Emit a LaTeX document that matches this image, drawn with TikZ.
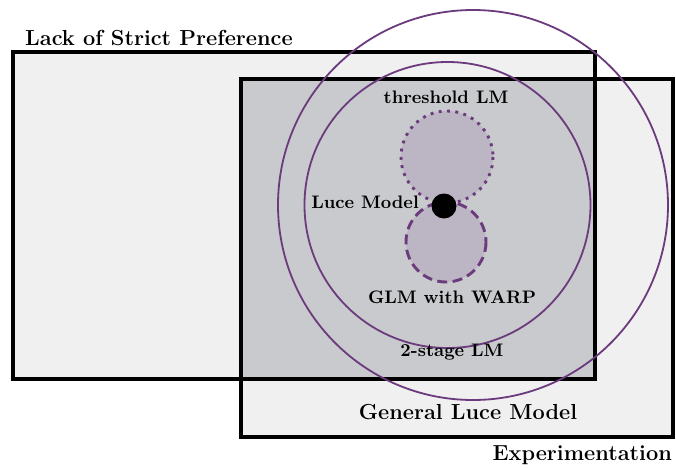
\documentclass[tikz,border=0pt]{standalone}
\usepackage{amsmath}
\usepackage{xcolor}
\usepackage{tikz}
\usetikzlibrary{shapes,backgrounds}
\definecolor{setgray}{HTML}{F0F0F0}
\definecolor{bothgray}{HTML}{C9CACD}
\definecolor{lmpurple}{HTML}{6B3B7E}
\definecolor{lmfill}{HTML}{BCB5C3}
\tikzstyle{setlabel} = [font=\large\bfseries, inner sep=1pt]
\tikzstyle{modellabel} = [font=\normalsize\bfseries, inner sep=1pt]
\tikzstyle{setbox} = [line width=2pt, draw=black]
\tikzstyle{model} = [draw=lmpurple, line width=1pt]
\begin{document}
\begin{tikzpicture}[x=0.0194cm, y=-0.0194cm]
\useasboundingbox (0,0) rectangle (676,468);
%Sets
\fill[setgray] (13,52) rectangle (595,379);
\fill[setgray] (241,79) rectangle (673,437);
\fill[bothgray] (241,79) rectangle (595,379);
\draw[setbox] (13,52) rectangle (595,379);
\draw[setbox] (241,79) rectangle (673,437);

% Luce models
\draw[model] (473,205) circle (195);
\draw[model] (447.5,205) circle (143);
\fill[lmfill] (447,157) circle (46);
\fill[lmfill] (446,242) circle (40);
\draw[model, line width=1.6pt, dash pattern=on 1.6pt off 3pt] (447,157) circle (46);
\draw[model, line width=1.6pt, dash pattern=on 5.5pt off 3pt] (446,242) circle (40);
\fill[black] (444,206) circle (12.5);

%Labels
\node[setlabel, anchor=west] at (23,38) (lsp){Lack of Strict Preference};
\node[setlabel, anchor=east] at (674,455) (exp){Experimentation};
\node[setlabel] at (468,412) (glm){General Luce Model};
\node[modellabel] at (452,352) (two){2-stage LM};
\node[modellabel] at (452,297) (warp){GLM with WARP};
\node[modellabel] at (446,97) (thr){threshold LM};
\node[modellabel, anchor=east] at (421,202) (luce){Luce Model};

\end{tikzpicture}
\end{document}
